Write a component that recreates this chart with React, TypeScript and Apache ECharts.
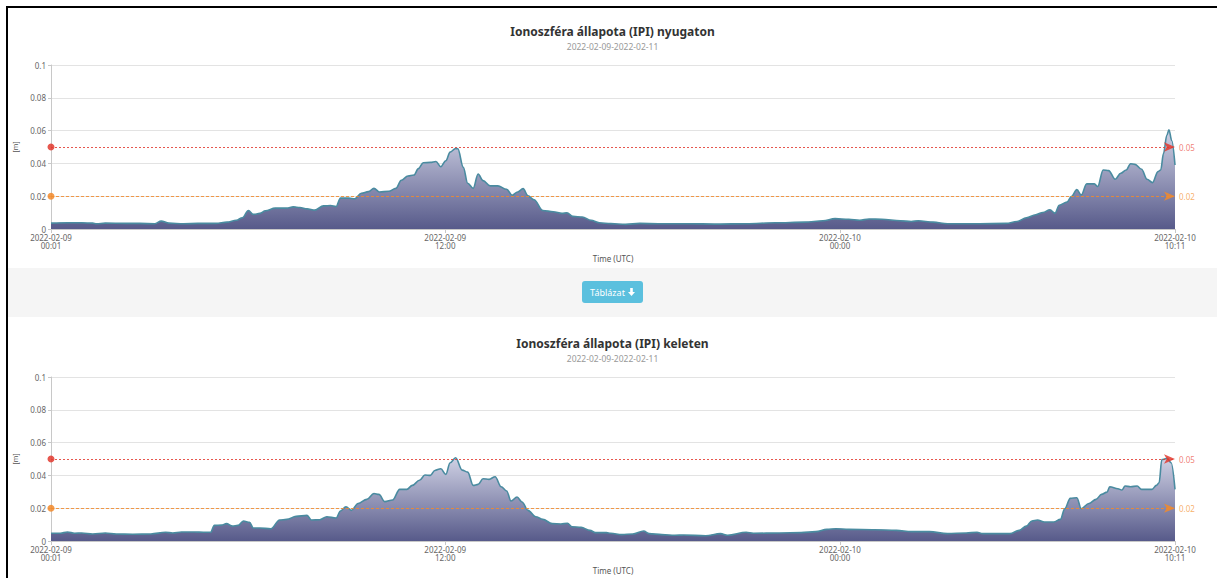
import React, { useEffect, useRef } from "react";
import * as echarts from "echarts";

// ---- data (minutes since 2022-02-09 00:01 UTC, IPI value in metres) ----
const westMinutes = [
  0, 30, 56, 76, 83, 99, 136, 162, 189, 201, 215, 242, 268, 301, 321, 338, 349, 360, 369, 381,
  391, 409, 430, 442, 454, 467, 481, 497, 510, 520, 528, 543, 554, 566, 579, 589, 599, 616, 629, 639,
  651, 662, 670, 679, 692, 702, 711, 720, 728, 738, 742, 752, 760, 770, 779, 788, 801, 815, 831, 841,
  851, 861, 870, 881, 897, 916, 932, 941, 952, 969, 985, 1000, 1021, 1048, 1074, 1108, 1161, 1215, 1268, 1321,
  1375, 1408, 1430, 1455, 1475, 1492, 1515, 1549, 1569, 1582, 1609, 1635, 1689, 1742, 1762, 1779, 1796, 1809, 1822, 1831,
  1839, 1853, 1861, 1871, 1879, 1889, 1903, 1909, 1919, 1929, 1941, 1951, 1961, 1969, 1977, 1989, 1999, 2009, 2019, 2024,
  2029, 2035, 2039, 2044, 2050,
];
const westValues = [
  0.0036, 0.0038, 0.0038, 0.0036, 0.0032, 0.0036, 0.0034, 0.0034, 0.0032, 0.0048, 0.0036, 0.0032, 0.0034, 0.0034, 0.0042, 0.0053, 0.0069, 0.0113, 0.0089, 0.0095,
  0.0111, 0.0127, 0.0127, 0.0135, 0.0131, 0.0123, 0.0115, 0.0141, 0.0143, 0.0137, 0.0188, 0.0188, 0.0184, 0.0218, 0.0228, 0.0248, 0.0226, 0.023, 0.0248, 0.0297,
  0.0323, 0.0329, 0.0368, 0.0404, 0.0406, 0.0412, 0.038, 0.0416, 0.0469, 0.0491, 0.0489, 0.0376, 0.0279, 0.0248, 0.0335, 0.0295, 0.0263, 0.0263, 0.0242, 0.0206,
  0.0226, 0.0246, 0.0202, 0.0178, 0.0113, 0.0105, 0.0095, 0.0099, 0.0077, 0.0073, 0.0053, 0.0038, 0.0033, 0.0028, 0.0034, 0.0032, 0.0032, 0.003, 0.0032, 0.0038,
  0.0042, 0.005, 0.0063, 0.0059, 0.0053, 0.0061, 0.0059, 0.005, 0.0046, 0.005, 0.0042, 0.0032, 0.0032, 0.0034, 0.0046, 0.0069, 0.0087, 0.0101, 0.0117, 0.0097,
  0.0145, 0.0164, 0.0198, 0.024, 0.0208, 0.0275, 0.0275, 0.0259, 0.036, 0.0356, 0.0303, 0.034, 0.036, 0.0398, 0.0394, 0.0364, 0.0303, 0.0283, 0.035, 0.036,
  0.046, 0.057, 0.0605, 0.054, 0.039,
];

const eastMinutes = [
  0, 17, 30, 43, 56, 76, 99, 119, 149, 182, 209, 222, 238, 262, 278, 291, 298, 311, 320, 331,
  341, 351, 362, 369, 381, 401, 417, 430, 447, 467, 475, 490, 503, 520, 528, 538, 548, 560, 576, 589,
  598, 609, 623, 636, 649, 659, 672, 682, 692, 700, 711, 720, 728, 738, 750, 760, 770, 779, 788, 799,
  810, 821, 831, 839, 850, 859, 870, 884, 897, 914, 930, 942, 950, 967, 983, 993, 1013, 1021, 1041, 1061,
  1081, 1091, 1114, 1138, 1154, 1194, 1221, 1234, 1268, 1281, 1328, 1368, 1395, 1415, 1432, 1455, 1502, 1542, 1569, 1602,
  1635, 1669, 1689, 1699, 1749, 1766, 1779, 1789, 1799, 1812, 1829, 1841, 1849, 1859, 1871, 1879, 1893, 1906, 1916, 1926,
  1931, 1946, 1953, 1959, 1969, 1981, 1989, 2008, 2016, 2021, 2026, 2036, 2043, 2050,
];
const eastValues = [
  0.0047, 0.0047, 0.0055, 0.0047, 0.0049, 0.0043, 0.0049, 0.0043, 0.0041, 0.0043, 0.0053, 0.0049, 0.0055, 0.0055, 0.0053, 0.0053, 0.0095, 0.0097, 0.0106, 0.0091,
  0.0095, 0.0122, 0.0114, 0.0079, 0.0079, 0.0075, 0.0128, 0.0132, 0.015, 0.0156, 0.0128, 0.013, 0.0148, 0.014, 0.0183, 0.0209, 0.0187, 0.0229, 0.0254, 0.029,
  0.0284, 0.024, 0.025, 0.0315, 0.0315, 0.0339, 0.037, 0.0402, 0.04, 0.043, 0.0441, 0.0406, 0.0477, 0.0508, 0.0432, 0.042, 0.0339, 0.0345, 0.038, 0.0376,
  0.0392, 0.0331, 0.0305, 0.0244, 0.0268, 0.0238, 0.0187, 0.0148, 0.0132, 0.0106, 0.0104, 0.0108, 0.0087, 0.0083, 0.0065, 0.0051, 0.0051, 0.0047, 0.0039, 0.0043,
  0.0061, 0.0045, 0.0039, 0.0035, 0.0037, 0.0032, 0.0045, 0.0035, 0.0053, 0.0047, 0.0049, 0.0051, 0.0057, 0.0071, 0.0075, 0.0071, 0.0069, 0.0065, 0.0057, 0.0057,
  0.0045, 0.0049, 0.0053, 0.0045, 0.0045, 0.0065, 0.0091, 0.0122, 0.0128, 0.0116, 0.0116, 0.0132, 0.0197, 0.026, 0.0264, 0.0197, 0.0229, 0.0254, 0.0284, 0.0298,
  0.0331, 0.0319, 0.0311, 0.0335, 0.0331, 0.0335, 0.0315, 0.0315, 0.0339, 0.0355, 0.0497, 0.0504, 0.0477, 0.0315,
];

const xTickMinutes = [0, 719, 1439, 2050];
const xTickLabels = ["2022-02-09\n00:01", "2022-02-09\n12:00", "2022-02-10\n00:00", "2022-02-10\n10:11"];
const yMin = 0;
const yMax = 0.1;
const yInterval = 0.02;
const thresholdValues = [0.05, 0.02];
const thresholdColors = ["#e2392f", "#f28a2a"];
const thresholdLabelColors = ["#ee6a5e", "#f5a24f"];
const westTitle = "Ionoszféra állapota (IPI) nyugaton";
const eastTitle = "Ionoszféra állapota (IPI) keleten";
const subtitleText = "2022-02-09-2022-02-11";
const xAxisName = "Time (UTC)";
const yAxisName = "[m]";
const buttonText = "Táblázat";

const FONT = "'Noto Sans', 'Open Sans', sans-serif";

function buildOption(title: string, minutes: number[], values: number[]) {
  const data = minutes.map((m, i) => [m, values[i]]);
  return {
    animation: false,
    textStyle: { fontFamily: FONT },
    title: {
      text: title,
      subtext: subtitleText,
      left: "center",
      top: 12,
      itemGap: 5,
      textStyle: { fontFamily: FONT, fontSize: 12, fontWeight: "bold", color: "#333" },
      subtextStyle: { fontFamily: FONT, fontSize: 8.5, color: "#999" },
    },
    grid: { left: 43, right: 42, top: 57, height: 164, outerBoundsMode: "none", containLabel: false },
    xAxis: {
      type: "value",
      min: 0,
      max: 2050,
      name: xAxisName,
      nameLocation: "middle",
      nameGap: 25,
      nameTextStyle: { fontFamily: FONT, fontSize: 8, color: "#555" },
      axisLine: { show: true, lineStyle: { color: "#c8c8c8" } },
      axisTick: { show: true, length: 4, lineStyle: { color: "#c8c8c8" }, customValues: xTickMinutes },
      axisLabel: {
        customValues: xTickMinutes,
        fontFamily: FONT,
        fontSize: 8,
        lineHeight: 8,
        color: "#666",
        margin: 4,
        formatter: (v: number) => {
          const idx = xTickMinutes.indexOf(Math.round(v));
          return idx >= 0 ? xTickLabels[idx] : "";
        },
      },
      splitLine: { show: false },
    },
    yAxis: {
      type: "value",
      min: yMin,
      max: yMax,
      interval: yInterval,
      name: yAxisName,
      nameLocation: "middle",
      nameGap: 29,
      nameRotate: 90,
      nameTextStyle: { fontFamily: FONT, fontSize: 7, color: "#555" },
      axisLine: { show: true, lineStyle: { color: "#c8c8c8" } },
      axisTick: { show: true, length: 3, lineStyle: { color: "#c8c8c8" } },
      axisLabel: { fontFamily: FONT, fontSize: 8, color: "#666", margin: 5 },
      splitLine: { show: true, lineStyle: { color: "#e3e3e3" } },
    },
    series: [
      {
        type: "line",
        data,
        smooth: 0.35,
        smoothMonotone: "x",
        showSymbol: false,
        symbol: "none",
        lineStyle: { color: "#4a8ba0", width: 1.6 },
        areaStyle: {
          color: new echarts.graphic.LinearGradient(0, 0, 0, 1, [
            { offset: 0, color: "#cfd1e4" },
            { offset: 1, color: "#575a8a" },
          ]),
          opacity: 1,
        },
        markLine: {
          silent: true,
          symbol: ["circle", "arrow"],
          symbolSize: [7, 11],
          precision: 2,
          data: thresholdValues.map((v, i) => ({
            yAxis: v,
            lineStyle: { color: thresholdColors[i], type: i === 0 ? [2, 2] : [3, 2], width: 1, opacity: 0.85 },
            itemStyle: { color: thresholdColors[i] },
            label: {
              show: true,
              position: "end",
              distance: 4,
              formatter: String(v),
              fontFamily: FONT,
              fontSize: 8,
              color: thresholdLabelColors[i],
            },
          })),
        },
      },
    ],
  };
}

function Chart(props: { title: string; minutes: number[]; values: number[]; width: number; height: number }) {
  const ref = useRef<HTMLDivElement | null>(null);
  useEffect(() => {
    if (!ref.current) return;
    const chart = echarts.init(ref.current, null, { renderer: "svg" });
    chart.setOption(buildOption(props.title, props.minutes, props.values) as any);
    return () => chart.dispose();
  }, []);
  return <div ref={ref} style={{ width: props.width, height: props.height }} />;
}

export default function App() {
  return (
    <div
      style={{
        position: "fixed",
        left: 0,
        top: 0,
        width: 1217,
        height: 578,
        overflow: "hidden",
        background: "#fff",
        fontFamily: FONT,
      }}
    >
      <div
        style={{
          position: "absolute",
          left: 6,
          top: 6,
          width: 1211,
          height: 572,
          borderLeft: "2px solid #000",
          borderTop: "2px solid #000",
          boxSizing: "border-box",
        }}
      />
      <div style={{ position: "absolute", left: 8, top: 8 }}>
        <Chart title={westTitle} minutes={westMinutes} values={westValues} width={1209} height={260} />
      </div>
      <div
        style={{
          position: "absolute",
          left: 8,
          top: 268,
          width: 1209,
          height: 49,
          background: "#f5f5f5",
        }}
      />
      <div
        style={{
          position: "absolute",
          left: 582,
          top: 281,
          width: 61,
          height: 22,
          background: "#5bc0de",
          borderRadius: 3,
          color: "#fff",
          fontSize: 9,
          display: "flex",
          alignItems: "center",
          justifyContent: "center",
          gap: 3,
        }}
      >
        <span>{buttonText}</span>
        <svg width="7" height="8" viewBox="0 0 7 8">
          <path d="M2.2 0 H4.8 V4 H7 L3.5 8 L0 4 H2.2 Z" fill="#fff" />
        </svg>
      </div>
      <div style={{ position: "absolute", left: 8, top: 320 }}>
        <Chart title={eastTitle} minutes={eastMinutes} values={eastValues} width={1209} height={258} />
      </div>
    </div>
  );
}
